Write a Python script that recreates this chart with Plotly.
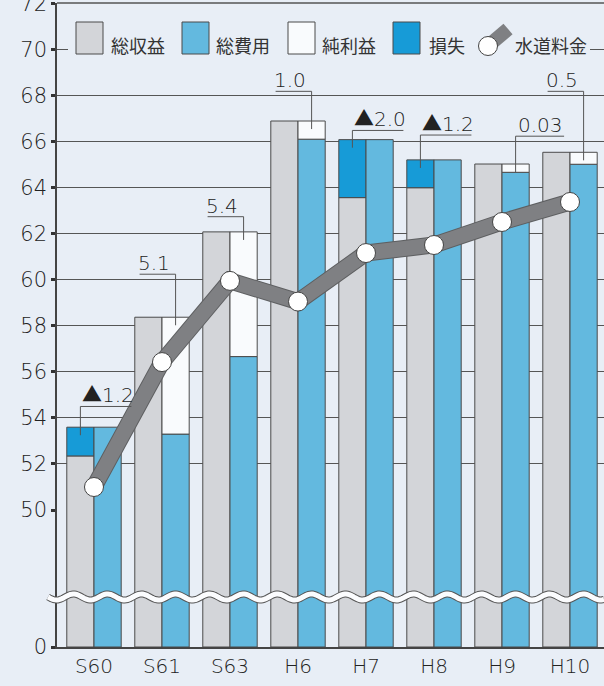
import numpy as np
import plotly.graph_objects as go

# ---------------- data ----------------
categories = ["S60", "S61", "S63", "H6", "H7", "H8", "H9", "H10"]
revenue = [52.35, 58.38, 62.09, 66.91, 63.58, 64.01, 65.04, 65.55]   # 総収益
expense = [53.60, 53.30, 56.67, 66.12, 66.10, 65.22, 64.68, 65.03]   # 総費用
tariff = [51.00, 56.43, 59.96, 59.06, 61.17, 61.52, 62.52, 63.39]    # 水道料金
label_text = ["▲1.2", "5.1", "5.4", "1.0", "▲2.0", "▲1.2", "0.03", "0.5"]
top_ticks = [50, 52, 54, 56, 58, 60, 62, 64, 66, 68, 70, 72]
legend_names = ["総収益", "総費用", "純利益", "損失", "水道料金"]

# ---------------- layout helpers ----------------
label_level = [54.5, 60.25, 62.75, 68.2, 66.5, 66.3, 66.25, 68.2]
label_dir = ["right", "left", "left", "left", "right", "right", "right", "left"]

W, H = 604, 686
ML, MR, MT, MB = 57, 0, 3, 39
PW, PH = W - ML - MR, H - MT - MB
PX_PER_CAT = 68.0

def px(xp):
    return (xp - ML) / PW

def py(yp):
    return (H - MB - yp) / PH

split = py(510)

C_GRAY = "#d3d5d9"
C_BLUE = "#63b9df"
C_DARK = "#179bd7"
C_WHITE = "#f9fbfd"
C_EDGE = "#4a4a4a"
C_BG = "#e8eef6"
C_LINE = "#7f8083"
C_TEXT = "#222222"
FONT = "DejaVu Sans, Noto Sans CJK JP, sans-serif"
NUMFONT = dict(family=FONT, color=C_TEXT, weight=300)

x = list(range(len(categories)))
loss = [e - r if e > r else None for r, e in zip(revenue, expense)]
profit = [r - e if r > e else None for r, e in zip(revenue, expense)]

fig = go.Figure()

def bar(y, color, offset, yaxis, base=None):
    fig.add_trace(go.Bar(
        x=x, y=y, base=base, width=0.4, offset=offset, yaxis=yaxis,
        marker=dict(color=color, line=dict(color=C_EDGE, width=1)),
        hoverinfo="skip", showlegend=False))

# lower (broken) part 0-50
bar(revenue, C_GRAY, -0.4, "y")
bar(expense, C_BLUE, 0.0, "y")
# upper part 50-72
bar(revenue, C_GRAY, -0.4, "y2")
bar(loss, C_DARK, -0.4, "y2", base=revenue)
bar(expense, C_BLUE, 0.0, "y2")
bar(profit, C_WHITE, 0.0, "y2", base=expense)

# tariff line
fig.add_trace(go.Scatter(x=x, y=tariff, yaxis="y2", mode="lines",
                         line=dict(color="#5e5f61", width=17),
                         hoverinfo="skip", showlegend=False))
fig.add_trace(go.Scatter(x=x, y=tariff, yaxis="y2", mode="lines+markers",
                         line=dict(color=C_LINE, width=15),
                         marker=dict(size=19, color="white",
                                     line=dict(color="#444", width=1)),
                         hoverinfo="skip", showlegend=False))

shapes = []
annotations = []

# top border of the plot
shapes.append(dict(type="line", xref="paper", yref="paper", layer="above",
                   x0=0, x1=1, y0=1, y1=1, line=dict(color="#555", width=1.5)))

# value labels with leader lines
for i, t in enumerate(label_text):
    on_left = expense[i] > revenue[i]
    lx = i + (-0.2 if on_left else 0.2)
    top = max(revenue[i], expense[i])
    yb = top - 0.35
    yl = label_level[i]
    wpx = sum(15 if c == "▲" else (6 if c == "." else 12.5) for c in t) + 5
    w = wpx / PX_PER_CAT
    xe = lx + w if label_dir[i] == "right" else lx - w
    shapes.append(dict(type="path", xref="x", yref="y2", layer="above",
                       path=f"M {xe},{yl} L {lx},{yl} L {lx},{yb}",
                       line=dict(color="#555", width=1)))
    annotations.append(dict(
        x=lx, y=yl, xref="x", yref="y2", text=t, showarrow=False,
        xanchor="left" if label_dir[i] == "right" else "right",
        yanchor="bottom", xshift=0 if label_dir[i] == "right" else -4, yshift=-3,
        font=dict(size=20, **NUMFONT)))

# legend (drawn manually to match the large swatches)
shapes.append(dict(type="rect", xref="paper", yref="paper", layer="above",
                   x0=px(68), x1=px(590), y0=py(56), y1=py(40),
                   fillcolor=C_BG, line=dict(width=0)))
sw_colors = [C_GRAY, C_BLUE, C_WHITE, C_DARK]
sw_x = [76, 182, 288, 393]
lab_x = [109, 214, 320, 427, 513]
for cx, col in zip(sw_x, sw_colors):
    shapes.append(dict(type="rect", xref="paper", yref="paper", layer="above",
                       x0=px(cx), x1=px(cx + 27), y0=py(54), y1=py(22),
                       fillcolor=col, line=dict(color=C_EDGE, width=1)))
shapes.append(dict(type="line", xref="paper", yref="paper", layer="above",
                   x0=px(488), y0=py(46), x1=px(508), y1=py(29),
                   line=dict(color=C_LINE, width=14)))
shapes.append(dict(type="circle", xref="paper", yref="paper", layer="above",
                   x0=px(478.5), x1=px(497.5), y0=py(55.5), y1=py(36.5),
                   fillcolor="white", line=dict(color="#444", width=1)))
for lxp, name in zip(lab_x, legend_names):
    annotations.append(dict(x=px(lxp), y=py(46), xref="paper", yref="paper",
                            text=name, showarrow=False, xanchor="left",
                            yanchor="middle",
                            font=dict(family=FONT, size=18, color="#333333")))

# axis break (wavy band)
xs = np.linspace(48, 604, 400)
ys = 597 + 3.0 * np.sin((xs - 48) / 34.0 * 2 * np.pi)
wpath = "M " + " L ".join(f"{px(a):.5f},{py(b):.5f}" for a, b in zip(xs, ys))
shapes.append(dict(type="path", xref="paper", yref="paper", layer="above",
                   path=wpath, line=dict(color="#555", width=7)))
shapes.append(dict(type="path", xref="paper", yref="paper", layer="above",
                   path=wpath, line=dict(color="#fbfcfe", width=5)))

tickstyle = dict(ticks="outside", ticklen=4, tickwidth=3, tickcolor="#333",
                 tickfont=dict(size=21, **NUMFONT),
                 showline=True, linecolor="#444", linewidth=1.5,
                 automargin=False, ticklabeloverflow="allow")

fig.update_layout(
    width=W, height=H,
    margin=dict(l=ML, r=MR, t=MT, b=MB, autoexpand=False),
    paper_bgcolor=C_BG, plot_bgcolor=C_BG,
    barmode="overlay", showlegend=False,
    xaxis=dict(range=[-0.544, 7.5], tickmode="array", tickvals=x,
               ticktext=categories, showgrid=False, zeroline=False,
               showline=True, linecolor="#444", linewidth=1.5, ticks="",
               tickfont=dict(size=20, **NUMFONT),
               anchor="y", fixedrange=True, automargin=False),
    yaxis=dict(domain=[0, split], range=[0, 50], tickmode="array",
               tickvals=[0], ticktext=["0"], showgrid=False, zeroline=False,
               anchor="x", fixedrange=True, **tickstyle),
    yaxis2=dict(domain=[split, 1], range=[50, 72.04], tickmode="array",
                tickvals=top_ticks, ticktext=[str(v) for v in top_ticks],
                showgrid=True, gridcolor="#555", gridwidth=1, zeroline=False,
                anchor="x", fixedrange=True, **tickstyle),
    shapes=shapes, annotations=annotations,
)

fig.write_html(
    "out.html",
    config={"displayModeBar": False},
    post_script="document.body.style.margin='0';document.body.style.background='%s';" % C_BG,
)
